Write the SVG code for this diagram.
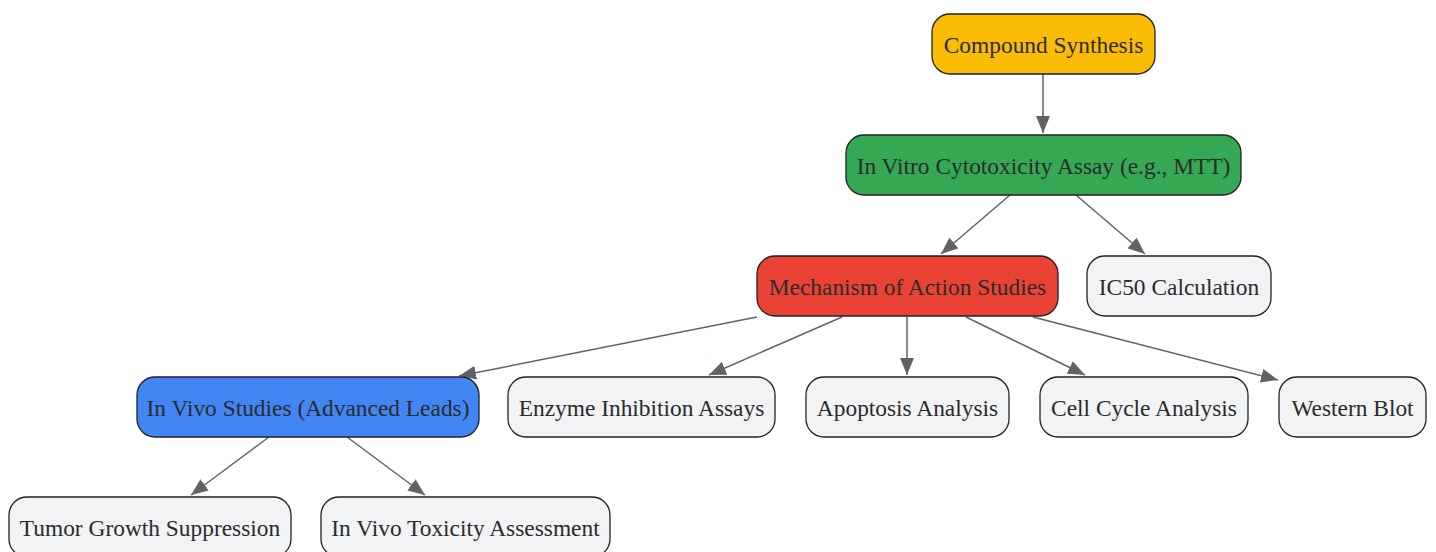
<svg xmlns="http://www.w3.org/2000/svg" width="1436" height="552" viewBox="0 0 1436 552">
<style>
.n rect{stroke:#222;stroke-width:1.3}
.n text{font-family:"Liberation Serif","Times New Roman",serif;font-size:23.4px;fill:#2b2b2b;text-anchor:middle;dominant-baseline:central}
.e line{stroke:#5f6368;stroke-width:1.5;marker-end:url(#ah)}
</style>
<defs>
<marker id="ah" viewBox="0 0 10 10" refX="10" refY="5" markerWidth="17" markerHeight="14" markerUnits="userSpaceOnUse" orient="auto" preserveAspectRatio="none">
<path d="M0,0 L10,5 L0,10 z" fill="#5f6368"/>
</marker>
</defs>
<rect width="1436" height="552" fill="#fff"/>
<g id="edges" class="e">
<line x1="1043" y1="74" x2="1043" y2="133"/>
<line x1="1010" y1="195" x2="941" y2="254"/>
<line x1="1076" y1="195" x2="1145" y2="254"/>
<line x1="757" y1="317" x2="459" y2="376"/>
<line x1="842" y1="317" x2="709" y2="375"/>
<line x1="907" y1="317" x2="907" y2="375"/>
<line x1="966" y1="317" x2="1085" y2="375"/>
<line x1="1033" y1="317" x2="1278" y2="380"/>
<line x1="269" y1="437" x2="191" y2="495"/>
<line x1="347" y1="437" x2="425" y2="495"/>
</g>
<g id="compound" class="n"><rect x="932" y="14" width="223" height="60" rx="18" fill="#FBBC05"/><text x="1043.5" y="45">Compound Synthesis</text></g>
<g id="invitro" class="n"><rect x="846" y="135" width="395" height="60" rx="18" fill="#34A853"/><text x="1043.5" y="166">In Vitro Cytotoxicity Assay (e.g., MTT)</text></g>
<g id="moa" class="n"><rect x="757" y="256" width="301" height="60" rx="18" fill="#EA4335"/><text x="907.5" y="287">Mechanism of Action Studies</text></g>
<g id="ic50" class="n"><rect x="1087" y="256" width="184" height="60" rx="18" fill="#F1F3F4"/><text x="1179" y="287">IC50 Calculation</text></g>
<g id="invivo" class="n"><rect x="137" y="377" width="342" height="60" rx="18" fill="#4285F4"/><text x="308" y="408">In Vivo Studies (Advanced Leads)</text></g>
<g id="enzyme" class="n"><rect x="508" y="377" width="267" height="60" rx="18" fill="#F1F3F4"/><text x="641.5" y="408">Enzyme Inhibition Assays</text></g>
<g id="apoptosis" class="n"><rect x="806" y="377" width="203" height="60" rx="18" fill="#F1F3F4"/><text x="907.5" y="408">Apoptosis Analysis</text></g>
<g id="cellcycle" class="n"><rect x="1040" y="377" width="208" height="60" rx="18" fill="#F1F3F4"/><text x="1144" y="408">Cell Cycle Analysis</text></g>
<g id="western" class="n"><rect x="1279" y="377" width="147" height="60" rx="18" fill="#F1F3F4"/><text x="1352.5" y="408">Western Blot</text></g>
<g id="tumor" class="n"><rect x="9" y="497" width="282" height="60" rx="18" fill="#F1F3F4"/><text x="150" y="528">Tumor Growth Suppression</text></g>
<g id="toxicity" class="n"><rect x="321" y="497" width="289" height="60" rx="18" fill="#F1F3F4"/><text x="465.5" y="528">In Vivo Toxicity Assessment</text></g>
</svg>
